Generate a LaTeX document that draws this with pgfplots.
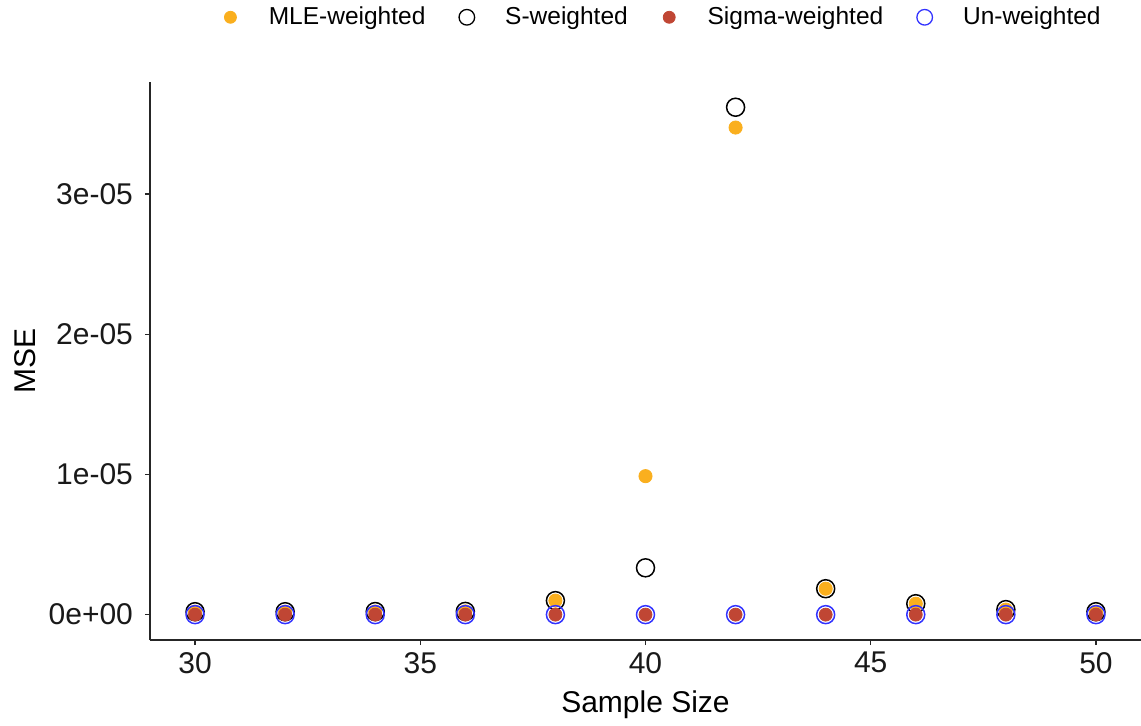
\documentclass[border=0pt]{standalone}
\usepackage{fontspec}
\setmainfont{Liberation Sans}
\usepackage{pgfplots}
\pgfplotsset{compat=1.18}
\definecolor{mleorange}{RGB}{250,175,30}
\definecolor{sigred}{RGB}{192,70,52}
\definecolor{unblue}{RGB}{50,50,255}
\begin{document}
\begin{tikzpicture}
\useasboundingbox (0,0) rectangle (570.5pt,362.5pt);
\begin{axis}[
  at={(75pt,42.5pt)}, anchor=south west,
  scale only axis, width=495.5pt, height=279pt,
  xmin=29, xmax=51, ymin=-1.81e-6, ymax=3.80e-5,
  axis x line=bottom, axis y line=left,
  axis line style={-, line width=0.75pt, black!85},
  tick align=outside, major tick length=2.5pt,
  tick style={line width=0.75pt, black!85},
  xtick={30,35,40,45,50},
  ytick={0,1e-5,2e-5,3e-5}, yticklabels={0e+00,1e-05,2e-05,3e-05},
  scaled y ticks=false,
  tick label style={font=\fontsize{15}{18}\selectfont, text=black!90},
  yticklabel style={xshift=-2.5pt},
  /pgf/number format/assume math mode=true,
  xlabel={Sample Size}, ylabel={MSE},
  label style={font=\fontsize{15}{18}\selectfont},
  xlabel style={at={(axis description cs:0.5,-0.1308)}, anchor=base},
  ylabel style={at={(axis description cs:-0.126,0.5)}, anchor=center},
  legend columns=4,
  legend style={draw=none, fill=none, at={(axis description cs:0.518,1.116)}, anchor=center,
    font=\fontsize{12.25}{14}\selectfont,
    /tikz/every even column/.append style={column sep=14.5pt}},
  legend image code/.code={\path (0pt,0pt) (21pt,0pt); \draw[#1] plot coordinates {(4pt,0pt)};},
]
\addlegendimage{only marks, mark=*, mark size=3pt, color=mleorange}
\addlegendentry{MLE-weighted}
\addlegendimage{only marks, mark=o, mark size=3.9pt, mark options={line width=0.65pt}, color=black}
\addlegendentry{S-weighted}
\addlegendimage{only marks, mark=*, mark size=3pt, color=sigred}
\addlegendentry{Sigma-weighted}
\addlegendimage{only marks, mark=o, mark size=3.9pt, mark options={line width=0.65pt}, color=unblue}
\addlegendentry{Un-weighted}

% MLE-weighted
\addplot[forget plot, only marks, mark=*, mark size=3.3pt, color=mleorange] coordinates {
(30,2.1e-7) (32,2.1e-7) (34,2.2e-7) (36,2.3e-7) (38,1.0e-6) (40,9.88e-6)
(42,3.475e-5) (44,1.85e-6) (46,7.8e-7) (48,3.6e-7) (50,2.1e-7)};
% S-weighted
\addplot[forget plot, only marks, mark=o, mark size=4.5pt, mark options={line width=0.75pt}, color=black] coordinates {
(30,2.1e-7) (32,2.1e-7) (34,2.2e-7) (36,2.3e-7) (38,1.0e-6) (40,3.34e-6)
(42,3.62e-5) (44,1.85e-6) (46,7.8e-7) (48,3.6e-7) (50,2.1e-7)};
% Un-weighted
\addplot[forget plot, only marks, mark=o, mark size=4.5pt, mark options={line width=0.75pt}, color=unblue] coordinates {
(30,0) (32,0) (34,0) (36,0) (38,0) (40,0) (42,0) (44,0) (46,0) (48,0) (50,0)};
% Sigma-weighted
\addplot[forget plot, only marks, mark=*, mark size=3.25pt, color=sigred] coordinates {
(30,0) (32,0) (34,0) (36,0) (38,0) (40,0) (42,0) (44,0) (46,0) (48,0) (50,0)};
\end{axis}
\end{tikzpicture}
\end{document}
